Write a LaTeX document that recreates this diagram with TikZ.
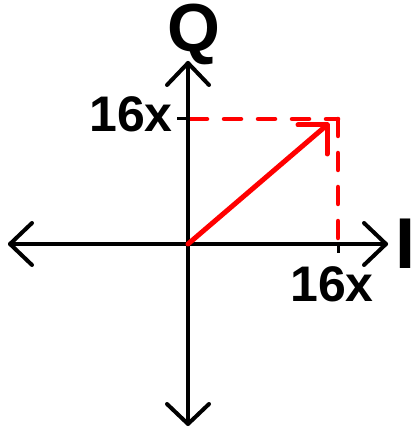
\documentclass[tikz,border=0pt]{standalone}
\usepackage{fontspec}
\setmainfont{Liberation Sans}
\usetikzlibrary{calc}
\begin{document}
\begin{tikzpicture}[x=1pt,y=-1pt,
  axis/.style={line width=4pt,black,line cap=round,line join=round},
  vec/.style={line width=5pt,red,line cap=round,line join=round},
  dsh/.style={line width=4.5pt,red,line cap=round,dash pattern=on 17pt off 17pt},
  lbl/.style={inner sep=0pt,font=\bfseries\fontsize{50}{60}\selectfont},
  big/.style={inner sep=0pt,font=\bfseries\fontsize{68}{80}\selectfont}]
\useasboundingbox (0,0) rectangle (413,427);
% key points
\coordinate (O) at (188,244);
\coordinate (L) at (10,244);
\coordinate (R) at (386,244);
\coordinate (T) at (188,63);
\coordinate (B) at (188,424);
\coordinate (P) at (327,125);
\coordinate (Cy) at (338,119);
\coordinate (Cx) at (338,244);
\coordinate (Qy) at (190,119);
\coordinate (Ty) at (177,119);
\coordinate (Tx) at (338,253);
% faint red dashed under the axis
\draw[dsh] (O) -- (Cx);
% dashed projections
\draw[dsh] (Qy) -- (Cy);
\draw[dsh] (Cy) -- (Cx);
% axes
\draw[axis] (L) -- (R);
\draw[axis] (T) -- (B);
\draw[axis] ($(L)+(22,-21)$) -- (L) -- ($(L)+(22,21)$);
\draw[axis] ($(R)+(-22,-21)$) -- (R) -- ($(R)+(-22,21)$);
\draw[axis] ($(T)+(-21,22)$) -- (T) -- ($(T)+(21,22)$);
\draw[axis] ($(B)+(-21,-20)$) -- (B) -- ($(B)+(21,-20)$);
% ticks
\draw[line width=3pt,black] (Ty) -- (T |- Ty);
\draw[line width=3pt,black] (Cx) -- (Tx);
% vector
\draw[vec] (O) -- (P);
\draw[vec] ($(P)+(-29,0)$) -- (P) -- ($(P)+(0,29)$);
% labels
\node[lbl,anchor=east] (ly) at (173,114) {16x};
\node[lbl] (lx) at (332,284) {16x};
\node[big] (q) at (194,34) {Q};
\node[big,font=\bfseries\fontsize{72}{80}\selectfont] (i) at (405,244) {I};
\end{tikzpicture}
\end{document}
